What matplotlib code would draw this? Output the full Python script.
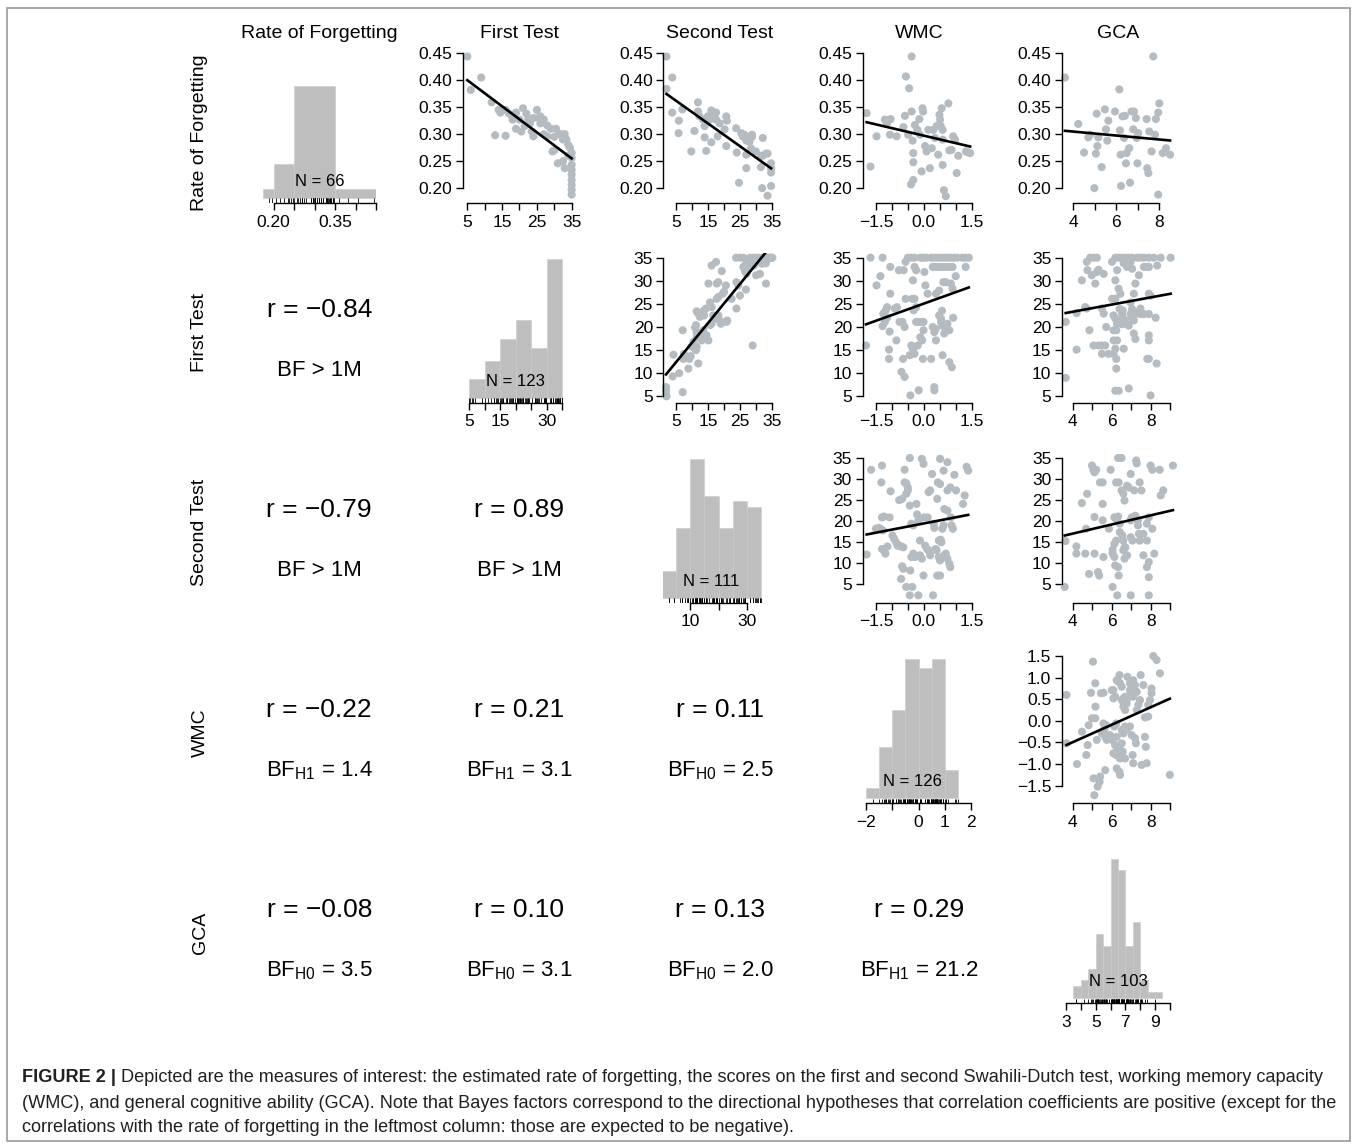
import numpy as np
import matplotlib
matplotlib.use('Agg')
import matplotlib.pyplot as plt
from matplotlib import font_manager
from matplotlib.patches import Rectangle

plt.rcParams['font.family'] = ['Liberation Sans', 'DejaVu Sans']
plt.rcParams['mathtext.fontset'] = 'custom'
plt.rcParams['mathtext.rm'] = 'Liberation Sans'
plt.rcParams['mathtext.it'] = 'Liberation Sans:italic'
plt.rcParams['mathtext.bf'] = 'Liberation Sans:bold'

names = ['Rate of Forgetting', 'First Test', 'Second Test', 'WMC', 'GCA']

# ---- histograms on the diagonal (bin edges + counts)
rof_edges = [0.175, 0.20, 0.25, 0.35, 0.45]
rof_counts = [1, 8, 53, 4]
ft_edges = [5, 10, 15, 20, 25, 30, 35]
ft_counts = [6, 12, 19, 25, 16, 45]
st_edges = [0, 5, 10, 15, 20, 25, 30, 35]
st_counts = [5, 13, 26, 19, 13, 18, 17]
wmc_edges = [-2, -1.5, -1, -0.5, 0, 0.5, 1, 1.5]
wmc_counts = [2, 11, 19, 30, 28, 30, 6]
gca_edges = [3.5, 4, 4.5, 5, 5.5, 6, 6.5, 7, 7.5, 8, 8.5, 9, 9.5]
gca_counts = [2, 3, 5, 11, 9, 24, 22, 9, 13, 3, 1, 1]

# ---- scatter panels, (x, y) pairs
ft_rof = [(5, 0.444), (6, 0.382), (9, 0.405), (12, 0.359), (14, 0.345), (14.5, 0.340), (16, 0.345), (17, 0.338),
          (18, 0.327), (13, 0.298), (16, 0.297), (19, 0.310), (20, 0.327), (21, 0.348), (22, 0.338), (22.5, 0.327),
          (23, 0.320), (24, 0.296), (25, 0.345), (26, 0.333), (27, 0.327), (28, 0.316), (29, 0.310), (28, 0.296),
          (29.5, 0.268), (30, 0.270), (30.5, 0.310), (31.5, 0.300), (32, 0.300), (33, 0.300), (32.5, 0.290),
          (33.5, 0.290), (31, 0.246), (32.5, 0.250), (33, 0.237), (34, 0.280), (34.5, 0.275), (35, 0.265),
          (35, 0.256), (35, 0.243), (35, 0.234), (35, 0.225), (35, 0.215), (35, 0.206), (35, 0.197), (35, 0.188),
          (19, 0.340), (18, 0.335), (20.5, 0.305), (23.5, 0.305), (25.5, 0.330), (27, 0.300), (26, 0.320),
          (24, 0.330), (21.5, 0.315), (30, 0.295), (34, 0.260)]

st_rof = [(1.9, 0.444), (1.9, 0.384), (3.7, 0.405), (3.7, 0.340), (5.8, 0.325), (6.9, 0.346), (5.7, 0.302),
          (9.7, 0.268), (10.7, 0.306), (11.8, 0.359), (11.8, 0.342), (12.3, 0.333), (13.4, 0.327), (13.9, 0.315),
          (13.9, 0.294), (14.4, 0.269), (14.9, 0.333), (15.5, 0.327), (16, 0.344), (16.5, 0.333), (16, 0.285),
          (17.5, 0.340), (17.5, 0.327), (18, 0.296), (18.6, 0.320), (20.2, 0.309), (20.7, 0.333), (20.9, 0.325),
          (20.7, 0.278), (23.8, 0.311), (24, 0.266), (24.7, 0.210), (25.4, 0.302), (25.9, 0.296), (26.4, 0.299),
          (27, 0.288), (27, 0.262), (27, 0.237), (28, 0.286), (28.5, 0.274), (28.8, 0.299), (28.8, 0.295),
          (30, 0.268), (31.6, 0.260), (32.2, 0.260), (32.2, 0.293), (31.6, 0.239), (32, 0.200), (33.2, 0.264),
          (33.7, 0.264), (33.7, 0.186), (34.8, 0.246), (34.8, 0.229), (34.8, 0.204), (34.8, 0.237)]

wmc_rof = [(-1.79, 0.339), (-1.67, 0.240), (-1.48, 0.296), (-1.22, 0.327), (-1.15, 0.320), (-1.04, 0.328),
           (-1.06, 0.299), (-0.85, 0.296), (-0.64, 0.313), (-0.59, 0.334), (-0.56, 0.407), (-0.49, 0.299),
           (-0.46, 0.385), (-0.38, 0.444), (-0.38, 0.342), (-0.35, 0.288), (-0.33, 0.265), (-0.33, 0.248),
           (-0.33, 0.215), (-0.40, 0.207), (-0.28, 0.317), (-0.20, 0.308), (-0.14, 0.328), (-0.12, 0.299),
           (-0.07, 0.231), (-0.04, 0.348), (-0.02, 0.342), (0.04, 0.278), (0.09, 0.268), (0.14, 0.308),
           (0.19, 0.237), (0.25, 0.274), (0.30, 0.308), (0.35, 0.293), (0.40, 0.315), (0.45, 0.262),
           (0.49, 0.336), (0.51, 0.327), (0.53, 0.315), (0.56, 0.348), (0.59, 0.308), (0.59, 0.290),
           (0.59, 0.243), (0.63, 0.196), (0.69, 0.185), (0.77, 0.357), (0.80, 0.270), (0.87, 0.271),
           (0.92, 0.296), (0.98, 0.290), (1.03, 0.228), (1.08, 0.260), (1.40, 0.266), (1.45, 0.265), (1.32, 0.268)]

gca_rof = [(3.61, 0.405), (4.23, 0.319), (4.50, 0.266), (4.70, 0.294), (4.78, 0.299), (4.98, 0.200), (5.05, 0.264),
           (5.09, 0.338), (5.12, 0.278), (5.16, 0.294), (5.32, 0.239), (5.47, 0.346), (5.52, 0.309), (5.58, 0.288),
           (5.63, 0.325), (5.94, 0.342), (6.14, 0.383), (6.17, 0.307), (6.20, 0.262), (6.22, 0.204), (6.29, 0.333),
           (6.40, 0.334), (6.36, 0.293), (6.45, 0.246), (6.48, 0.265), (6.60, 0.274), (6.64, 0.210), (6.71, 0.342),
           (6.82, 0.342), (6.79, 0.309), (6.91, 0.330), (6.95, 0.293), (6.98, 0.246), (7.02, 0.302), (7.41, 0.328),
           (7.44, 0.237), (7.49, 0.228), (7.53, 0.305), (7.64, 0.268), (7.72, 0.444), (7.80, 0.299), (7.84, 0.328),
           (7.95, 0.340), (8.00, 0.357), (7.95, 0.188), (8.16, 0.265), (8.31, 0.274), (8.50, 0.262)]

st_ft = [(1.75, 7.0), (1.75, 6.3), (1.75, 5.4), (1.9, 5.0), (7.0, 5.9), (3.85, 9.3), (5.9, 10.0), (7.2, 13.1),
         (7.4, 14.2), (4.1, 14.0), (7.0, 19.3), (8.8, 11.0), (9.1, 13.1), (9.5, 13.7), (9.8, 15.8), (10.4, 16.8),
         (10.9, 15.3), (11.2, 15.0), (11.4, 15.7), (11.9, 12.1), (11.4, 17.8), (11.4, 18.9), (10.9, 19.9),
         (11.2, 20.4), (11.9, 22.9), (11.4, 23.4), (12.4, 22.2), (13.0, 17.1), (13.0, 18.6), (13.5, 19.3),
         (13.7, 23.6), (14.3, 24.0), (13.7, 22.5), (14.5, 18.2), (15.1, 17.1), (15.6, 20.4), (16.1, 20.7),
         (15.6, 25.3), (16.1, 24.3), (15.1, 29.4), (16.1, 33.3), (17.5, 34.1), (16.6, 22.5), (17.2, 21.8),
         (17.7, 26.1), (18.2, 26.5), (18.2, 22.5), (18.7, 21.4), (19.0, 20.7), (17.7, 29.4), (18.2, 29.7),
         (19.6, 27.2), (20.0, 27.6), (19.3, 32.1), (20.8, 21.1), (21.0, 21.4), (20.6, 29.0), (22.4, 26.1),
         (23.9, 24.0), (23.9, 29.7), (24.5, 29.0), (25.0, 26.8), (23.8, 35), (25.0, 35), (26.1, 35), (26.1, 33.0),
         (26.6, 32.1), (26.9, 33.7), (27.1, 31.5), (27.7, 32.6), (28.2, 35), (29.2, 35), (30.0, 35), (31.1, 35),
         (32.4, 35), (33.4, 35), (34.7, 35), (35.2, 35), (28.7, 34.1), (29.4, 33.3), (30.3, 34.2), (26.9, 28.1),
         (29.0, 16.0), (30.1, 31.2), (31.3, 31.5), (33.2, 29.4), (31.9, 33.7), (33.2, 33.8), (34.3, 35), (35, 35)]

wmc_ft = [(-1.81, 16.0), (-1.67, 35), (-1.29, 35), (-1.48, 29.0), (-1.36, 31.0), (-1.27, 22.9), (-1.19, 23.6),
          (-1.15, 24.3), (-1.22, 21.1), (-1.29, 20.2), (-1.07, 19.0), (-1.15, 22.0), (-1.09, 15.1), (-1.09, 13.1),
          (-1.05, 27.2), (-1.05, 33.0), (-0.91, 24.0), (-0.84, 24.3), (-0.86, 17.1), (-0.78, 32.3), (-0.63, 32.3),
          (-0.76, 21.1), (-0.67, 21.1), (-0.70, 10.3), (-0.60, 9.2), (-0.65, 13.1), (-0.60, 20.0), (-0.57, 26.1),
          (-0.57, 34.1), (-0.50, 35), (-0.39, 35), (-0.29, 35), (-0.44, 13.9), (-0.42, 5.2), (-0.39, 16.0),
          (-0.34, 15.3), (-0.29, 14.2), (-0.36, 26.1), (-0.29, 26.1), (-0.34, 30.1), (-0.29, 33.0), (-0.24, 32.3),
          (-0.24, 21.1), (-0.19, 21.1), (-0.32, 23.6), (-0.24, 24.3), (-0.19, 16.0), (-0.16, 6.3), (-0.11, 17.8),
          (-0.05, 17.1), (-0.08, 21.1), (-0.01, 21.1), (-0.03, 13.1), (-0.01, 19.3), (0.02, 31.9), (-0.11, 35),
          (-0.03, 35), (0.07, 35), (0.05, 29.0), (0.12, 27.2), (0.23, 35), (0.33, 35), (0.43, 35), (0.54, 35),
          (0.64, 35), (0.74, 35), (0.85, 35), (0.95, 35), (1.05, 35), (1.21, 35), (1.31, 35), (1.41, 35),
          (0.28, 33), (0.38, 33), (0.48, 33), (0.59, 33), (0.69, 33), (0.80, 33), (0.90, 33), (0.28, 20.0),
          (0.38, 19.6), (0.33, 18.9), (0.23, 13.1), (0.33, 7.0), (0.33, 6.3), (0.38, 27.2), (0.48, 27.9),
          (0.38, 17.1), (0.48, 22.5), (0.54, 21.8), (0.54, 21.1), (0.59, 20.3), (0.57, 23.5), (0.61, 29.7),
          (0.69, 29.7), (0.64, 18.6), (0.69, 19.3), (0.59, 13.9), (0.74, 20.7), (0.80, 19.3), (0.80, 12.4),
          (0.88, 11.3), (0.85, 29.4), (0.90, 28.3), (0.92, 22.0), (1.00, 31.0), (1.31, 33.0)]

gca_ft = [(3.64, 9.0), (3.64, 21.1), (4.2, 15.1), (4.2, 23.0), (4.47, 30.1), (4.64, 24.3), (4.72, 24.0), (4.72, 34.1),
          (4.9, 35), (5.07, 35), (5.24, 35), (4.76, 32.3), (4.98, 31.2), (4.86, 19.3), (5.07, 16.0), (5.16, 29.4),
          (5.24, 31.9), (5.33, 32.4), (5.33, 16), (5.5, 16), (5.67, 16), (5.5, 14.2), (5.5, 24.0), (5.59, 22.9),
          (5.59, 31.5), (5.72, 20.0), (5.84, 14.2), (6.02, 34.1), (6.19, 35), (6.36, 35), (6.53, 35), (6.71, 35),
          (6.88, 35), (7.05, 35), (7.31, 35), (7.48, 35), (7.66, 35), (7.91, 35), (8.17, 35), (8.52, 35), (9.03, 35),
          (6.02, 26.1), (6.19, 26.1), (6.1, 22.5), (6.19, 21.8), (6.28, 20.7), (6.1, 19.3), (6.24, 19.3),
          (6.1, 17.1), (6.28, 17.1), (6.19, 15.3), (6.1, 14.2), (6.24, 13.1), (6.24, 11.0), (6.19, 6.2), (6.36, 6.2),
          (6.19, 30.1), (6.28, 32.3), (6.36, 28.3), (6.45, 27.2), (6.41, 23.9), (6.53, 22.8), (6.62, 21.7),
          (6.45, 21.4), (6.53, 20.6), (6.57, 23.6), (6.69, 21.4), (6.79, 20.6), (6.88, 20.3), (6.62, 15.3),
          (6.62, 33.8), (6.79, 33.0), (6.97, 34.1), (7.05, 32.6), (6.97, 25.3), (7.05, 23.9), (6.97, 22.8),
          (7.05, 22.1), (7.14, 21.4), (7.22, 22.8), (7.31, 23.2), (7.48, 22.8), (7.66, 22.8), (7.91, 22.8),
          (6.88, 6.7), (7.14, 18.6), (7.22, 17.4), (7.14, 27.2), (7.22, 29.4), (7.4, 31.2), (7.66, 33.0),
          (7.79, 33.0), (7.91, 33.0), (7.48, 24.0), (7.83, 13.1), (7.91, 13.1), (7.91, 27.2), (8.0, 26.8),
          (7.91, 17.1), (7.91, 18.2), (8.0, 5.2), (8.26, 22.0), (8.31, 12.1), (8.34, 33.3)]

wmc_st = [(-1.79, 12.1), (-1.65, 32.2), (-1.50, 18.2), (-1.41, 18.4), (-1.31, 33.2), (-1.33, 29.2), (-1.31, 20.9),
          (-1.25, 21.1), (-1.36, 18.2), (-1.28, 17.8), (-1.31, 13.4), (-1.25, 13.1), (-1.20, 12.3), (-1.14, 14.0),
          (-1.07, 20.9), (-1.04, 27.1), (-0.98, 16.6), (-0.93, 15.8), (-0.87, 15.0), (-0.82, 14.2), (-0.77, 14.2),
          (-0.71, 14.0), (-0.64, 13.8), (-0.77, 25.0), (-0.68, 25.3), (-0.68, 9.3), (-0.64, 8.7), (-0.71, 6.3),
          (-0.60, 29.2), (-0.55, 29.0), (-0.50, 28.0), (-0.60, 32.2), (-0.55, 26.5), (-0.50, 27.3), (-0.44, 23.7),
          (-0.44, 35.0), (-0.42, 8.3), (-0.39, 19.4), (-0.33, 19.0), (-0.55, 4.4), (-0.44, 2.4), (-0.36, 4.4),
          (-0.39, 11.5), (-0.33, 12.3), (-0.28, 11.5), (-0.23, 24.1), (-0.21, 21.6), (-0.17, 20.2), (-0.17, 2.4),
          (-0.12, 15.4), (-0.12, 11.9), (-0.06, 11.1), (-0.06, 34.8), (-0.01, 33.6), (-0.01, 7.1), (0.01, 20.9),
          (0.12, 20.9), (0.04, 14.2), (0.10, 13.4), (0.15, 13.1), (0.15, 26.9), (0.20, 27.3), (0.20, 11.9),
          (0.26, 31.2), (0.29, 2.4), (0.31, 19.4), (0.33, 18.4), (0.37, 13.4), (0.40, 13.1), (0.42, 7.1),
          (0.51, 7.1), (0.42, 25.3), (0.44, 29.2), (0.51, 28.8), (0.47, 11.5), (0.51, 10.7), (0.47, 15.4),
          (0.53, 15.6), (0.51, 34.8), (0.55, 15.0), (0.58, 18.2), (0.62, 19.0), (0.62, 32.0), (0.64, 11.9),
          (0.69, 12.3), (0.74, 11.1), (0.80, 9.9), (0.74, 27.3), (0.74, 34.0), (0.83, 9.1), (0.96, 31.0),
          (1.01, 27.3), (0.83, 28.0), (0.87, 19.0), (0.91, 18.2), (1.23, 24.1), (1.28, 26.1), (1.34, 32.9),
          (1.39, 32.0), (0.64, 22.9), (0.74, 22.5), (0.85, 20.9)]

gca_st = [(3.59, 4.4), (3.63, 15.3), (4.19, 14.0), (4.19, 12.3), (4.47, 24.3), (4.74, 26.5), (4.69, 18.2),
          (4.65, 12.3), (4.84, 7.5), (4.99, 33.2), (5.06, 32.2), (5.12, 31.6), (5.21, 32.2), (5.12, 21.0),
          (5.12, 12.3), (5.30, 7.9), (5.36, 7.1), (5.40, 29.2), (5.54, 29.2), (5.54, 24.1), (5.54, 20.2),
          (5.58, 11.5), (5.86, 18.2), (5.95, 32.2), (6.05, 13.2), (6.05, 12.3), (6.14, 11.5), (6.14, 14.6),
          (6.23, 15.4), (6.05, 4.4), (6.14, 20.9), (6.23, 20.5), (6.33, 21.1), (6.23, 29.2), (6.36, 29.2),
          (6.29, 2.4), (6.33, 9.1), (6.18, 9.5), (6.33, 35.0), (6.51, 35.0), (6.36, 7.1), (6.42, 19.4),
          (6.42, 17.4), (6.55, 16.6), (6.60, 15.4), (6.66, 13.8), (6.51, 27.3), (6.60, 26.5), (6.66, 24.9),
          (6.60, 13.1), (6.70, 13.8), (6.66, 11.1), (6.79, 11.9), (6.79, 28.4), (6.88, 28.0), (6.98, 20.2),
          (7.03, 20.9), (6.98, 16.2), (7.07, 15.4), (6.98, 31.2), (6.98, 2.4), (7.16, 27.3), (7.22, 21.3),
          (7.26, 34.4), (7.29, 33.7), (7.35, 20.2), (7.35, 19.0), (7.40, 17.0), (7.44, 15.4), (7.44, 29.2),
          (7.53, 27.3), (7.63, 11.9), (7.63, 17.0), (7.81, 9.1), (7.91, 10.3), (7.91, 6.7), (7.81, 15.4),
          (7.81, 19.4), (7.91, 20.9), (7.91, 2.4), (8.00, 33.2), (8.09, 32.2), (8.09, 18.2), (8.19, 12.3),
          (8.47, 32.2), (8.52, 26.1), (8.65, 27.3), (9.15, 33.2)]

gca_wmc = [(3.68, 0.60), (3.68, -0.52), (4.22, -1.00), (4.48, -0.25), (4.70, -0.79), (4.77, -0.56), (4.82, -0.10),
           (4.94, 0.65), (4.99, 0.06), (5.16, 0.06), (5.04, 1.37), (5.07, -1.33), (5.11, -1.72), (5.17, 0.33),
           (5.16, 0.87), (5.24, -0.44), (5.28, -1.52), (5.38, -1.41), (5.41, -1.29), (5.67, -1.14), (5.45, 0.64),
           (5.58, 0.65), (5.50, -0.29), (5.62, -0.21), (5.67, -0.37), (5.75, -0.44), (5.58, -0.06), (5.72, -0.10),
           (5.92, -0.33), (6.01, -0.44), (6.01, 0.71), (6.09, 0.71), (6.09, 0.52), (6.18, 0.56), (6.13, -0.13),
           (6.23, -0.06), (6.09, -0.75), (6.23, -0.79), (6.30, -0.67), (6.40, -0.60), (6.43, -0.87), (6.52, -0.52),
           (6.18, -0.56), (6.26, -0.37), (6.26, 0.94), (6.35, 0.91), (6.43, 0.87), (6.52, 0.79), (6.40, 1.06),
           (6.26, -1.10), (6.40, -1.18), (6.43, -1.25), (6.52, 0.48), (6.60, 0.52), (6.69, 0.56), (6.77, 0.48),
           (6.60, 0.33), (6.69, 0.25), (6.77, 0.40), (6.86, 0.56), (6.52, -0.21), (6.60, -0.29), (6.69, -0.13),
           (6.77, -0.21), (6.94, -0.13), (7.03, -0.33), (6.69, -0.87), (6.57, -0.71), (6.81, 1.02), (6.94, 0.87),
           (7.11, 0.94), (7.20, 0.83), (6.94, 0.71), (7.03, 0.64), (7.11, 0.56), (7.20, 0.71), (7.29, 0.67),
           (7.20, -0.40), (7.25, -0.52), (7.08, -0.79), (7.11, -0.98), (7.29, 0.25), (7.37, 0.37), (7.46, 0.48),
           (7.49, 1.06), (7.63, 0.83), (7.71, 0.08), (7.71, -0.37), (7.76, -0.60), (7.54, -1.02), (7.80, -0.98),
           (7.88, 0.10), (7.88, 0.37), (7.97, 0.48), (8.05, 0.64), (8.05, 0.75), (8.14, 1.50), (8.31, 1.41),
           (8.48, 1.10), (8.99, -1.25)]

# regression lines (intercept, slope) per scatter panel
fit_intercept = [0.4242, 0.3825, 0.2973, 0.3195, 8.25, 25.06, 20.2, 19.46, 12.72, -1.302]
fit_slope = [-0.004833, -0.00419, -0.01389, -0.00367, 0.842, 2.478, 0.775, 1.461, 1.082, 0.202]

# correlation text in the lower triangle
r_values = {(1, 0): -0.84, (2, 0): -0.79, (2, 1): 0.89, (3, 0): -0.22, (3, 1): 0.21, (3, 2): 0.11,
            (4, 0): -0.08, (4, 1): 0.10, (4, 2): 0.13, (4, 3): 0.29}
bf_labels = {(1, 0): 'BF > 1M', (2, 0): 'BF > 1M', (2, 1): 'BF > 1M',
             (3, 0): ('H1', 1.4), (3, 1): ('H1', 3.1), (3, 2): ('H0', 2.5),
             (4, 0): ('H0', 3.5), (4, 1): ('H0', 3.1), (4, 2): ('H0', 2.0), (4, 3): ('H1', 21.2)}

# axis ticks per variable
rof_ticks = [0.20, 0.25, 0.30, 0.35, 0.40, 0.45]
test_ticks = [5, 10, 15, 20, 25, 30, 35]
wmc_ticks = [-1.5, -1.0, -0.5, 0.0, 0.5, 1.0, 1.5]
gca_ticks = [4, 5, 6, 7, 8, 9]

caption = [
    'Depicted are the measures of interest: the estimated rate of forgetting, the scores on the first and second '
    'Swahili-Dutch test, working memory capacity',
    '(WMC), and general cognitive ability (GCA). Note that Bayes factors correspond to the directional hypotheses '
    'that correlation coefficients are positive (except for the',
    'correlations with the rate of forgetting in the leftmost column: those are expected to be negative).',
]

# ------------------------------------------------------------------ layout
W, H = 1357, 1147
fig = plt.figure(figsize=(W / 100, H / 100), dpi=100)

col_left = [262.5, 462.7, 663.3, 862.5, 1061.7]
row_bottom = [202.7, 402.6, 602.5, 802.7, 1002.7]
reg_w, reg_h = 113.5, 150

col_xlim = [None, (3.68, 36.3), (0.9, 36.6), (-1.92, 1.635), (3.435, 9.265)]
row_ylim = [(0.173, 0.451), (3.64, 36.1), (0.7, 36.3), (-1.894, 1.578)]
hist_xlim = [(0.1726, 0.4481), (2.97, 39.47), (0.46, 40.57), (-2.133, 2.183), (2.71, 10.36)]
hist_top_px = [112, 139, 139, 139, 139]

point_color = '#B4BCC2'
bar_color = '#BEBEBE'
tick_size = 12.5


def fmt(v, dec):
    return f'{v:.{dec}f}'.replace('-', '\u2212')


def cell(i, j):
    return fig.add_axes([col_left[j] / W, 1 - row_bottom[i] / H, reg_w / W, reg_h / H])


def style_x(ax, ticks, labels):
    ax.spines['top'].set_visible(False)
    ax.spines['right'].set_visible(False)
    ax.spines['bottom'].set_bounds(ticks[0], ticks[-1])
    ax.spines['bottom'].set_linewidth(1.0)
    ax.set_xticks(ticks)
    ax.set_xticklabels(labels)
    ax.tick_params(axis='x', length=5, width=1.0, labelsize=tick_size, pad=3.5)
    ax.patch.set_visible(False)


def style_y(ax, ticks, labels):
    ax.spines['left'].set_bounds(ticks[0], ticks[-1])
    ax.spines['left'].set_linewidth(1.0)
    ax.set_yticks(ticks)
    ax.set_yticklabels(labels)
    ax.tick_params(axis='y', length=5, width=1.0, labelsize=tick_size, pad=2.5)


# y-axis settings per row (rows 0..3 have scatter y axes)
row_yticks = [rof_ticks, test_ticks, test_ticks, wmc_ticks]
row_ylabels = [[fmt(v, 2) for v in rof_ticks], [str(v) for v in test_ticks],
               [str(v) for v in test_ticks], [fmt(v, 1) for v in wmc_ticks]]

# x-axis settings per column for scatter panels
col_xticks = [None, test_ticks, test_ticks, wmc_ticks, gca_ticks]
col_xlabels = [None,
               ['5', '', '15', '', '25', '', '35'],
               ['5', '', '15', '', '25', '', '35'],
               [fmt(-1.5, 1), '', '', '0.0', '', '', '1.5'],
               ['4', '', '6', '', '8', '']]

scatter_pos = [(0, 1), (0, 2), (0, 3), (0, 4), (1, 2), (1, 3), (1, 4), (2, 3), (2, 4), (3, 4)]
scatter_data = [ft_rof, st_rof, wmc_rof, gca_rof, st_ft, wmc_ft, gca_ft, wmc_st, gca_st, gca_wmc]

for k, (i, j) in enumerate(scatter_pos):
    ax = cell(i, j)
    pts = np.array(scatter_data[k])
    x, y = pts[:, 0], pts[:, 1]
    ax.scatter(x, y, s=34, color=point_color, edgecolors='none', zorder=2, clip_on=False)
    xs = np.array([x.min(), x.max()])
    ax.plot(xs, fit_intercept[k] + fit_slope[k] * xs, color='black', lw=1.9, zorder=3)
    xlim = col_xlim[j]
    xt, xl = col_xticks[j], col_xlabels[j]
    if i == 0 and j == 4:
        xlim = (3.46, 8.74)
        xt, xl = gca_ticks[:5], ['4', '', '6', '', '8']
    ax.set_xlim(xlim)
    ax.set_ylim(row_ylim[i])
    style_x(ax, xt, xl)
    style_y(ax, row_yticks[i], row_ylabels[i])

# diagonal histograms
hist_edges = [rof_edges, ft_edges, st_edges, wmc_edges, gca_edges]
hist_counts = [rof_counts, ft_counts, st_counts, wmc_counts, gca_counts]
hist_rug = [np.array(ft_rof)[:, 1], np.array(st_ft)[:, 1], np.array(wmc_st)[:, 1],
            np.array(gca_wmc)[:, 1], np.array(gca_wmc)[:, 0]]
hist_ticks = [rof_ticks, test_ticks, [10, 20, 30], [-2, -1, 0, 1, 2], [3, 4, 5, 6, 7, 8, 9, 10]]
hist_labels = [['0.20', '', '', '0.35', '', ''],
               ['5', '', '15', '', '', '30', ''],
               ['10', '', '30'],
               [fmt(-2, 0), '', '0', '1', '2'],
               ['3', '', '5', '', '7', '', '9', '']]

for d in range(5):
    ax = cell(d, d)
    edges = np.array(hist_edges[d], dtype=float)
    counts = np.array(hist_counts[d], dtype=float)
    widths = np.diff(edges)
    dens = counts / widths / counts.sum()
    per_px = dens.max() / hist_top_px[d]
    base_px = 5
    ax.bar(edges[:-1], dens, width=widths, align='edge', color=bar_color,
           edgecolor='#C9C9C9', linewidth=0.4, zorder=1)
    ax.vlines(hist_rug[d], 0, 0.028, transform=ax.get_xaxis_transform(), color='black', lw=0.6)
    ax.text((edges[0] + edges[-1]) / 2, 0.14, f'N = {int(counts.sum())}', transform=ax.get_xaxis_transform(),
            ha='center', va='center', fontsize=12, zorder=4)
    ax.set_xlim(hist_xlim[d])
    ax.set_ylim(-base_px * per_px, (reg_h - base_px) * per_px)
    ax.spines['left'].set_visible(False)
    ax.set_yticks([])
    style_x(ax, hist_ticks[d], hist_labels[d])

# lower triangle: correlation + Bayes factor text
for (i, j), r in r_values.items():
    cx = (col_left[j] + reg_w / 2) / W
    ytop = 1 - row_bottom[i] / H
    fig.text(cx, ytop + 0.618 * reg_h / H, 'r = ' + fmt(r, 2), ha='center', va='center', fontsize=19)
    bf = bf_labels[(i, j)]
    if isinstance(bf, str):
        s = bf
    else:
        s = r'BF$_{\mathrm{' + bf[0] + '}}$ = ' + f'{bf[1]:.1f}'
    fig.text(cx, ytop + 0.215 * reg_h / H, s, ha='center', va='center', fontsize=16)

# column titles and row labels
for j in range(5):
    fig.text((col_left[j] + reg_w / 2) / W, 1 - 34 / H, names[j], ha='center', va='center', fontsize=14)
for i in range(5):
    fig.text(200 / W, 1 - (row_bottom[i] - reg_h / 2 + 5) / H, names[i], rotation=90,
             ha='center', va='center', fontsize=14)

# caption
fams = {f.name for f in font_manager.fontManager.ttflist}
cap_font = 'Liberation Sans Narrow' if 'Liberation Sans Narrow' in fams else 'Liberation Sans'
cap_y = [1078, 1103, 1128]
renderer = fig.canvas.get_renderer()
fs0 = 12
bold = fig.text(22 / W, 1 - cap_y[0] / H, 'FIGURE 2 |', fontsize=fs0, weight='bold', va='center',
                family=cap_font, color='#231F20')
rest = [fig.text(22 / W, 1 - y / H, s, fontsize=fs0, va='center', family=cap_font, color='#231F20')
        for s, y in zip(caption, cap_y)]
w_bold = bold.get_window_extent(renderer).width
w_first = rest[0].get_window_extent(renderer).width
fs = fs0 * (1311 - 4) / (w_bold + w_first + 4)
bold.set_fontsize(fs)
for t in rest:
    t.set_fontsize(fs)
w_bold = bold.get_window_extent(renderer).width
rest[0].set_x((22 + w_bold + 5) / W)

# outer frame
fig.patches.append(Rectangle((7 / W, 1 - 1141 / H), (1350 - 7) / W, (1141 - 8) / H,
                             transform=fig.transFigure, fill=False, edgecolor='#9A9A9A', lw=1.2))

fig.savefig('out.png', dpi=100)
